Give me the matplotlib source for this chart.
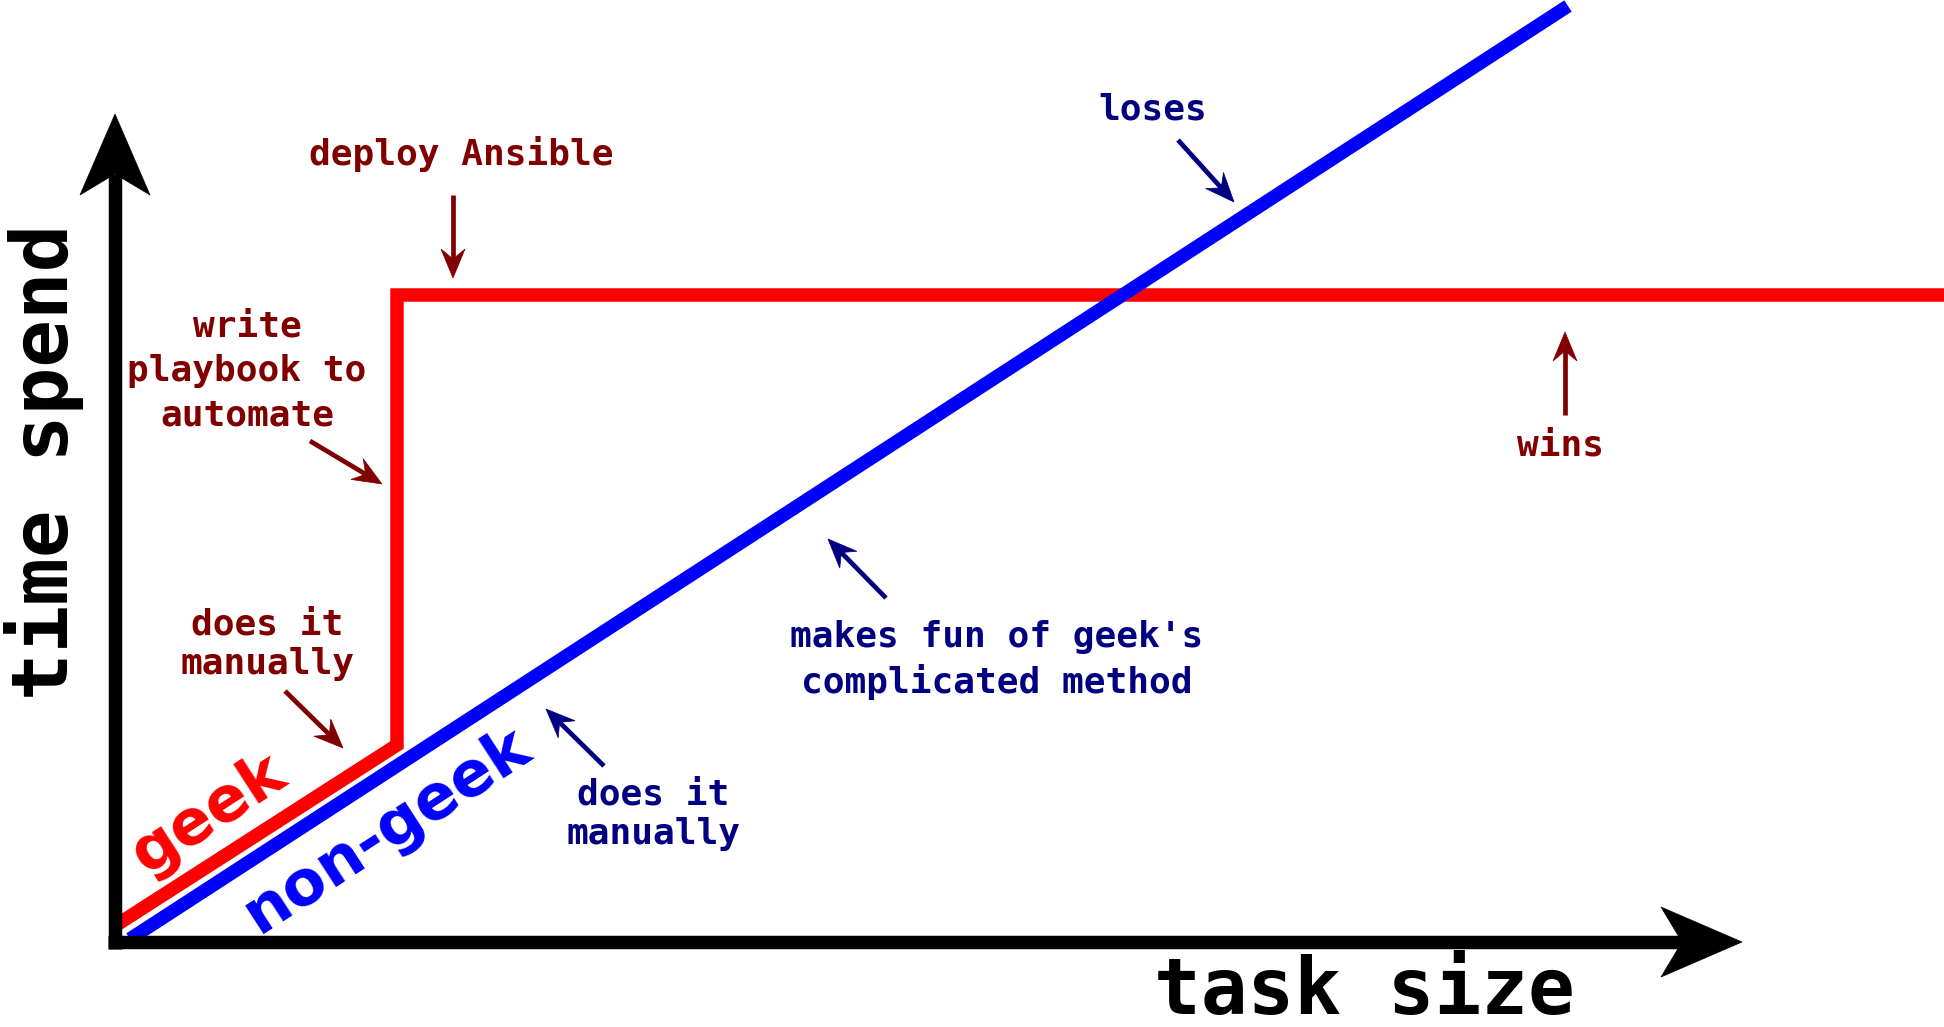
import numpy as np
import matplotlib.pyplot as plt
from matplotlib.patches import Polygon

# data (units: task size / time spend, origin at the axes corner)
geek_x = [3, 282, 282, 1840]
geek_y = [18, 197, 647, 647]
nongeek_x = [15, 1453]
nongeek_y = [3, 936]

x_axis_end = 1627
y_axis_end = 828

red = '#ff0000'
blue = '#0000ff'
dark_red = '#800000'
navy = '#000080'
mono = 'DejaVu Sans Mono'


def arrow(ax, x0, y0, x1, y1, color, lw, head_len, half_w, notch, z=3):
    dx, dy = x1 - x0, y1 - y0
    length = np.hypot(dx, dy)
    ux, uy = dx / length, dy / length
    px, py = -uy, ux
    bx, by = x1 - ux * head_len, y1 - uy * head_len
    nx, ny = x1 - ux * notch, y1 - uy * notch
    ax.plot([x0, nx], [y0, ny], color=color, lw=lw, solid_capstyle='butt', zorder=z)
    head = Polygon([[x1, y1], [bx + px * half_w, by + py * half_w], [nx, ny],
                    [bx - px * half_w, by - py * half_w]], closed=True,
                   facecolor=color, edgecolor=color, lw=0.5, zorder=z)
    ax.add_patch(head)


def small_arrow(ax, x0, y0, x1, y1, color):
    arrow(ax, x0, y0, x1, y1, color, 3.4, 29, 12, 19)


fig = plt.figure(figsize=(19.44, 10.27), dpi=100)
ax = fig.add_axes([0, 0, 1, 1])
ax.set_xlim(-115, 1829)
ax.set_ylim(-85, 942)
ax.axis('off')

# axes
arrow(ax, 0, -7, 0, y_axis_end, 'black', 9.7, 81, 35, 60, z=4)
arrow(ax, -7, 0, x_axis_end, 0, 'black', 9.7, 81, 35, 60, z=4)
ax.text(-71, 480, 'time spend', rotation=90, ha='center', va='center',
        family=mono, weight='bold', fontsize=57, color='black')
ax.text(1249, -50, 'task size', ha='center', va='center',
        family=mono, weight='bold', fontsize=56, color='black')

# the two lines
ax.plot(geek_x, geek_y, color=red, lw=9.7, solid_joinstyle='miter', zorder=2)
ax.plot(nongeek_x, nongeek_y, color=blue, lw=9.7, solid_capstyle='butt', zorder=2)

ax.text(94, 128, 'geek', rotation=33, ha='center', va='center',
        family='DejaVu Sans', weight='bold', fontsize=45, color=red)
ax.text(272, 112, 'non-geek', rotation=33, ha='center', va='center',
        family='DejaVu Sans', weight='bold', fontsize=45, color=blue)

# geek annotations
txt = dict(family=mono, weight='bold', fontsize=26, ha='center', va='center')
ax.text(346, 788, 'deploy Ansible', color=dark_red, **txt)
small_arrow(ax, 338, 747, 338, 664, dark_red)
ax.text(132, 571, 'write\nplaybook to\nautomate', color=dark_red, linespacing=1.4, **txt)
small_arrow(ax, 195, 501, 267, 458, dark_red)
ax.text(152, 298, 'does it\nmanually', color=dark_red, linespacing=1.2, **txt)
small_arrow(ax, 170, 251, 228, 194, dark_red)
ax.text(1445, 496, 'wins', color=dark_red, **txt)
small_arrow(ax, 1450, 527, 1450, 610, dark_red)

# non-geek annotations
ax.text(538, 128, 'does it\nmanually', color=navy, linespacing=1.2, **txt)
small_arrow(ax, 489, 176, 431, 233, navy)
ax.text(882, 282, "makes fun of geek's\ncomplicated method", color=navy, linespacing=1.35, **txt)
small_arrow(ax, 771, 344, 713, 403, navy)
ax.text(1038, 833, 'loses', color=navy, **txt)
small_arrow(ax, 1063, 802, 1119, 740, navy)

fig.savefig('out.png', dpi=100)
